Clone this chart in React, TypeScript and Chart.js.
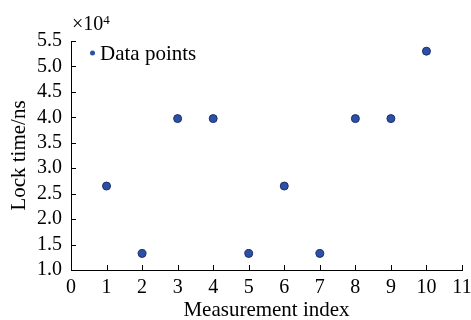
import React, { useEffect, useRef } from "react";
import { Chart, registerables } from "chart.js";

Chart.register(...registerables);

const xValues = [1, 2, 3, 4, 5, 6, 7, 8, 9, 10];
const yValues = [2.65, 1.325, 3.975, 3.975, 1.325, 2.65, 1.325, 3.975, 3.975, 5.3];
const xTicks = [0, 1, 2, 3, 4, 5, 6, 7, 8, 9, 10, 11];
const yTicks = [1.0, 1.5, 2.0, 2.5, 3.0, 3.5, 4.0, 4.5, 5.0, 5.5];
const seriesLabel = "Data points";
const xTitle = "Measurement index";
const yTitle = "Lock time/ns";

const FONT = "'Liberation Serif', 'DejaVu Serif', serif";
const FS = 20;
const FT = 21;
const POINT_FILL = "#2c50a8";

const inwardTicks = {
  id: "inwardTicks",
  afterDraw(chart: any) {
    const ctx = chart.ctx;
    const xs = chart.scales.x;
    const ys = chart.scales.y;
    const ca = chart.chartArea;
    ctx.save();
    ctx.strokeStyle = "#000";
    ctx.lineWidth = 1;
    ctx.beginPath();
    xTicks.forEach((v) => {
      const px = Math.round(xs.getPixelForValue(v)) + 0.5;
      ctx.moveTo(px, ca.bottom);
      ctx.lineTo(px, ca.bottom - 5);
    });
    yTicks.forEach((v) => {
      const py = Math.round(ys.getPixelForValue(v)) + 0.5;
      ctx.moveTo(ca.left, py);
      ctx.lineTo(ca.left + 5, py);
    });
    ctx.stroke();
    // exponent label
    ctx.fillStyle = "#000";
    ctx.textBaseline = "alphabetic";
    ctx.textAlign = "left";
    ctx.font = `${FS}px ${FONT}`;
    const base = "\u00d710";
    ctx.fillText(base, ca.left + 1, 30);
    const w = ctx.measureText(base).width;
    ctx.font = `13px ${FONT}`;
    ctx.fillText("4", ca.left + 1 + w, 24);
    // legend
    ctx.beginPath();
    ctx.fillStyle = POINT_FILL;
    ctx.arc(ca.left + 21.5, ca.top + 12, 2.5, 0, Math.PI * 2);
    ctx.fill();
    ctx.fillStyle = "#000";
    ctx.font = `${FT}px ${FONT}`;
    ctx.fillText(seriesLabel, ca.left + 29, ca.top + 19);
    ctx.restore();
  },
};

export default function App() {
  const ref = useRef<HTMLCanvasElement | null>(null);
  useEffect(() => {
    document.body.style.margin = "0";
    if (!ref.current) return;
    const chart = new Chart(ref.current, {
      type: "scatter",
      data: {
        datasets: [
          {
            label: seriesLabel,
            data: xValues.map((x, i) => ({ x, y: yValues[i] })),
            backgroundColor: POINT_FILL,
            borderColor: "#1b2f66",
            borderWidth: 1,
            pointRadius: 4,
          },
        ],
      },
      options: {
        animation: false,
        responsive: false,
        maintainAspectRatio: false,
        layout: { padding: { top: 41, right: 9, left: 0, bottom: 0 } },
        plugins: {
          tooltip: { enabled: false },
          legend: { display: false },
        },
        scales: {
          x: {
            type: "linear",
            min: 0,
            max: 11,
            afterBuildTicks: (s: any) => {
              s.ticks = xTicks.map((v) => ({ value: v }));
            },
            afterFit: (s: any) => {
              s.height = 50;
              s.paddingLeft = 0;
              s.paddingRight = 0;
            },
            grid: { display: true, drawOnChartArea: false, drawTicks: false },
            border: { display: true, color: "#000", width: 1 },
            ticks: {
              color: "#000",
              padding: 6,
              font: { family: FONT, size: FS },
              maxRotation: 0,
              autoSkip: false,
              callback: (v: any) => String(v),
            },
            title: {
              display: true,
              text: xTitle,
              color: "#000",
              font: { family: FONT, size: FT },
              padding: { top: 0, bottom: -3 },
            },
          },
          y: {
            type: "linear",
            min: 1.0,
            max: 5.5,
            afterBuildTicks: (s: any) => {
              s.ticks = yTicks.map((v) => ({ value: v }));
            },
            afterFit: (s: any) => {
              s.width = 71;
              s.paddingTop = 0;
              s.paddingBottom = 0;
            },
            grid: { display: true, drawOnChartArea: false, drawTicks: false },
            border: { display: true, color: "#000", width: 1 },
            ticks: {
              color: "#000",
              padding: 9,
              font: { family: FONT, size: FS },
              autoSkip: false,
              callback: (v: any) => Number(v).toFixed(1),
            },
            title: {
              display: true,
              text: yTitle,
              color: "#000",
              font: { family: FONT, size: FT },
              padding: { top: 7, bottom: 0 },
            },
          },
        },
      },
      plugins: [inwardTicks],
    });
    return () => chart.destroy();
  }, []);
  return (
    <div style={{ width: 471, height: 320 }}>
      <canvas ref={ref} width={471} height={320} style={{ width: 471, height: 320, display: "block" }} />
    </div>
  );
}
